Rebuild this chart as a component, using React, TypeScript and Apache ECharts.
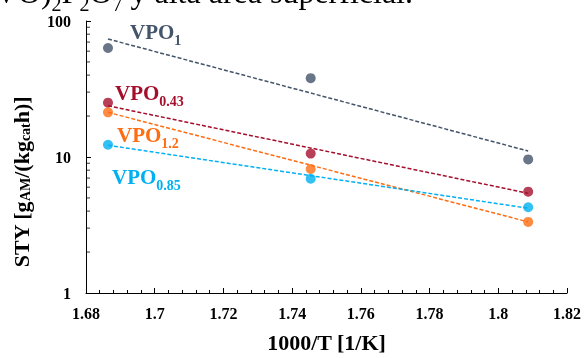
import React, { useEffect, useRef } from "react";
import * as echarts from "echarts";

const xValues = [1.6864, 1.7454, 1.8087];
const vpo1 = [63.3, 38.0, 9.6];
const vpo043 = [25.1, 10.6, 5.56];
const vpo12 = [21.3, 8.16, 3.33];
const vpo085 = [12.3, 6.92, 4.27];

const fitX = [1.6864, 1.8087];
const fit1 = [73.7, 11.07];
const fit043 = [23.8, 5.41];
const fit12 = [21.3, 3.33];
const fit085 = [12.2, 4.2];

const yMinorTicks = [2, 3, 4, 5, 6, 7, 8, 9, 20, 30, 40, 50, 60, 70, 80, 90];

const colors = {
  vpo1: "#44546a",
  vpo043: "#a50f2d",
  vpo12: "#ff6d12",
  vpo085: "#00b0f0",
};

const FONT = "Liberation Serif";

function pts(xs: number[], ys: number[]) {
  return xs.map((x, i) => [x, ys[i]]);
}

function label(x: number, y: number, main: string, sub: string, color: string) {
  return {
    type: "text",
    x,
    y,
    style: {
      text: `{m|${main}}{s|${sub}}`,
      fill: color,
      rich: {
        m: { fontFamily: FONT, fontWeight: "bold", fontSize: 21, lineHeight: 22, verticalAlign: "bottom", padding: [0, 0, 5, 0], fill: color },
        s: { fontFamily: FONT, fontWeight: "bold", fontSize: 14, lineHeight: 14, verticalAlign: "bottom", fill: color },
      },
    },
  };
}

export default function App() {
  const ref = useRef<HTMLDivElement>(null);
  useEffect(() => {
    if (!ref.current) return;
    const chart = echarts.init(ref.current, null, { renderer: "svg" });
    const dashed = (name: string, data: number[], color: string) => ({
      name,
      type: "line",
      data: pts(fitX, data),
      symbol: "none",
      lineStyle: { color, width: 1.5, type: [4, 2] },
      z: 2,
    });
    const scatter = (name: string, data: number[], color: string) => ({
      name,
      type: "scatter",
      data: pts(xValues, data),
      symbolSize: 10,
      itemStyle: { color },
      z: 3,
    });
    chart.setOption({
      animation: false,
      grid: { left: 86, right: 17, top: 21, bottom: 65 },
      xAxis: {
        type: "value",
        min: 1.68,
        max: 1.82,
        interval: 0.02,
        name: "1000/T [1/K]",
        nameLocation: "middle",
        nameGap: 38,
        nameTextStyle: { fontFamily: FONT, fontWeight: "bold", fontSize: 22, color: "#000" },
        axisLine: { lineStyle: { color: "#000", width: 1 } },
        axisTick: { inside: true, length: 5, lineStyle: { color: "#000" } },
        minorTick: { show: true, splitNumber: 5, length: 3, lineStyle: { color: "#000" } },
        axisLabel: { fontFamily: FONT, fontWeight: "bold", fontSize: 16, color: "#000", margin: 12 },
        splitLine: { show: false },
      },
      yAxis: {
        type: "log",
        logBase: 10,
        min: 1,
        max: 100,
        name: "STY [g{s|AM}/(kg{s|cat}h)]",
        nameLocation: "middle",
        nameGap: 54,
        nameRotate: 90,
        nameTextStyle: {
          fontFamily: FONT,
          fontWeight: "bold",
          fontSize: 22,
          color: "#000",
          padding: [0, 50, 0, 0],
          rich: {
            s: { fontFamily: FONT, fontWeight: "bold", fontSize: 14, color: "#000", padding: [8, 0, 0, 0] },
          },
        },
        axisLine: { show: true, lineStyle: { color: "#000", width: 1 } },
        axisTick: { show: true, inside: true, length: 5, lineStyle: { color: "#000" } },
        axisLabel: { fontFamily: FONT, fontWeight: "bold", fontSize: 16, color: "#000", margin: 15 },
        splitLine: { show: false },
      },
      series: [
        {
          name: "y minor ticks",
          type: "scatter",
          data: yMinorTicks.map((v) => [1.68, v]),
          symbol: "rect",
          symbolSize: [4, 1],
          symbolOffset: [2, 0],
          itemStyle: { color: "#000" },
          silent: true,
          clip: false,
          z: 1,
        },
        dashed("fit VPO1", fit1, colors.vpo1),
        dashed("fit VPO0.43", fit043, colors.vpo043),
        dashed("fit VPO1.2", fit12, colors.vpo12),
        dashed("fit VPO0.85", fit085, colors.vpo085),
        scatter("VPO1", vpo1, colors.vpo1),
        scatter("VPO0.43", vpo043, colors.vpo043),
        scatter("VPO1.2", vpo12, colors.vpo12),
        scatter("VPO0.85", vpo085, colors.vpo085),
      ],
      graphic: [
        {
          type: "text",
          x: 413,
          y: 14,
          style: {
            text: "{m|(VO)}{s|2}{m|P}{s|2}{m|O}{s|7}{m| y alta área superficial.}",
            fill: "#000",
            align: "right",
            verticalAlign: "bottom",
            rich: {
              m: { fontFamily: FONT, fontSize: 32, lineHeight: 32, verticalAlign: "bottom", padding: [0, 0, 6, 0], fill: "#000" },
              s: { fontFamily: FONT, fontSize: 20, lineHeight: 20, verticalAlign: "bottom", fill: "#000" },
            },
          },
        },
        label(130, 25, "VPO", "1", colors.vpo1),
        label(115, 86, "VPO", "0.43", colors.vpo043),
        label(117, 128, "VPO", "1.2", colors.vpo12),
        label(112, 170, "VPO", "0.85", colors.vpo085),
      ],
    });
    return () => chart.dispose();
  }, []);
  return <div ref={ref} style={{ position: "fixed", left: 0, top: 0, width: 584, height: 358 }} />;
}
